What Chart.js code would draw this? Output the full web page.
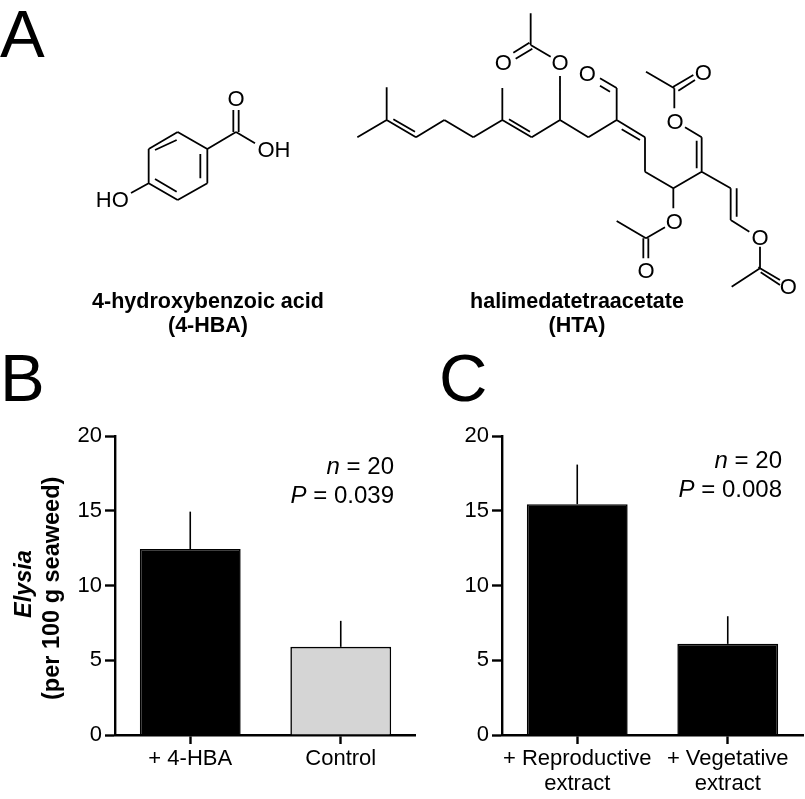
<!DOCTYPE html>
<html>
<head>
<meta charset="utf-8">
<script src="https://cdn.jsdelivr.net/npm/chart.js@4"></script>
<style>
  html, body { margin: 0; padding: 0; background: #fff; }
  #page { position: relative; width: 805px; height: 799px; overflow: hidden; font-family: "Liberation Sans", Arial, sans-serif; color: #000; }
  #page canvas { position: absolute; }
  .txt { position: absolute; white-space: nowrap; line-height: 1; }
  .panel { font-size: 67px; }
  .name { font-size: 21.5px; font-weight: bold; text-align: center; line-height: 24px; transform: translateX(-50%); }
  .stat { font-size: 24px; text-align: right; line-height: 29px; transform: translateX(-100%); }
  .ytitle { font-size: 23.5px; font-weight: bold; transform-origin: 0 0; }
</style>
</head>
<body>
<div id="page">
  <canvas id="hbaChart" width="340" height="350" style="left:0;top:0"></canvas>
  <canvas id="htaChart" width="465" height="350" style="left:340px;top:0"></canvas>
  <canvas id="chartB" width="416" height="379" style="left:0;top:420px"></canvas>
  <canvas id="chartC" width="805" height="379" style="left:0;top:420px"></canvas>

  <div class="txt panel" style="left:0;top:0">A</div>
  <div class="txt panel" style="left:0;top:344px">B</div>
  <div class="txt panel" style="left:439px;top:344px">C</div>

  <div class="txt name" style="left:208px;top:289px">4-hydroxybenzoic acid<br>(4-HBA)</div>
  <div class="txt name" style="left:577px;top:289px">halimedatetraacetate<br>(HTA)</div>

  <div class="txt stat" style="left:394px;top:451px"><i>n</i> = 20<br><i>P</i> = 0.039</div>
  <div class="txt stat" style="left:782px;top:445px"><i>n</i> = 20<br><i>P</i> = 0.008</div>

  <div class="txt ytitle" id="yTitle1" style="left:12px;top:618px;transform:rotate(-90deg)"><i>Elysia</i></div>
  <div class="txt ytitle" id="yTitle2" style="left:40px;top:700px;transform:rotate(-90deg)">(per 100 g seaweed)</div>
</div>

<script>
// ----------------------------------------------------
// Bar panels
// ----------------------------------------------------
const categoriesB = ['+ 4-HBA', 'Control'];
const valuesB = [12.45, 5.9];
const errorsB = [2.5, 1.74];

const categoriesC = [['+ Reproductive', 'extract'], ['+ Vegetative', 'extract']];
const valuesC = [15.45, 6.1];
const errorsC = [2.65, 1.85];

const yTicks = [0, 5, 10, 15, 20];

// ----------------------------------------------------
// Structures: bonds as point pairs, in each sketch's own units
// ----------------------------------------------------
const hbaBonds = [
  [533,396, 622,447], [622,447, 622,550], [622,550, 533,600], [533,600, 446,550], [446,550, 446,447], [446,447, 533,396],
  [465,450, 530,420], [601,462, 601,535], [465,537, 530,575],
  [622,447, 708,396], [708,396, 765,430], [700,396, 700,330], [716,396, 716,330],
  [446,550, 393,579]
];
const hbaAtoms = [
  { t: 'O', x: 708, y: 296 },
  { t: 'OH', x: 822, y: 450 },
  { t: 'HO', x: 337, y: 600 }
];

const htaBonds = [
  [52,352, 140,300], [140,202, 140,300], [140,300, 228,352], [160,298, 225,335], [228,352, 313,300], [313,300, 400,352],
  [400,352, 487,300], [487,204, 487,300], [487,300, 575,352], [507,298, 570,335], [575,352, 660,300],
  [660,300, 660,168], [632,110, 572,75], [572,75, 572,-20], [520,98, 568,68], [527,116, 577,86],
  [660,300, 745,352], [745,352, 830,300], [830,300, 830,204], [830,204, 780,175], [810,215, 780,197],
  [830,300, 915,352], [845,328, 900,360], [915,352, 915,455], [915,455, 1000,505],
  [1000,505, 1000,565], [975,622, 918,655], [918,655, 830,603], [910,655, 910,715], [925,655, 925,715],
  [1000,505, 1085,455], [1085,455, 1085,352], [1070,445, 1070,362], [1085,352, 1035,322],
  [1003,265, 1003,205], [1003,205, 918,155], [1000,200, 1060,165], [1015,212, 1065,180],
  [1085,455, 1172,505], [1172,505, 1172,600], [1190,505, 1190,590], [1172,600, 1228,635],
  [1260,680, 1260,745], [1260,745, 1175,800], [1255,742, 1320,780], [1262,757, 1320,795]
];
const htaAtoms = [
  { t: 'O', x: 660, y: 130 }, { t: 'O', x: 490, y: 130 }, { t: 'O', x: 742, y: 162 },
  { t: 'O', x: 1005, y: 305 }, { t: 'O', x: 1090, y: 158 }, { t: 'O', x: 1003, y: 605 },
  { t: 'O', x: 918, y: 752 }, { t: 'O', x: 1260, y: 655 }, { t: 'O', x: 1345, y: 800 }
];

// null between bonds keeps the line from joining them up
function bondPoints(bonds) {
  const pts = [];
  bonds.forEach(b => {
    pts.push({ x: b[0], y: b[1] }, { x: b[2], y: b[3] }, { x: null, y: null });
  });
  return pts;
}

// atom letters go on top of the bonds
const atomLabels = {
  id: 'atomLabels',
  afterDatasetsDraw(chart, args, opts) {
    const ctx = chart.ctx;
    ctx.save();
    ctx.font = '22px "Liberation Sans", Arial, sans-serif';
    ctx.fillStyle = '#000';
    ctx.textAlign = 'center';
    ctx.textBaseline = 'middle';
    opts.atoms.forEach(a => {
      ctx.fillText(a.t, chart.scales.x.getPixelForValue(a.x), chart.scales.y.getPixelForValue(a.y) + 1);
    });
    ctx.restore();
  }
};

function drawStructure(id, bonds, atoms, xMax, yMin, yMax) {
  new Chart(document.getElementById(id), {
    type: 'scatter',
    data: {
      datasets: [{
        data: bondPoints(bonds),
        showLine: true,
        spanGaps: false,
        borderColor: '#000',
        borderWidth: 1.8,
        pointRadius: 0,
        clip: false
      }]
    },
    options: {
      responsive: false,
      animation: false,
      layout: { padding: 0 },
      plugins: { legend: { display: false }, tooltip: { enabled: false }, atomLabels: { atoms } },
      scales: {
        x: { display: false, min: 0, max: xMax },
        y: { display: false, min: yMin, max: yMax, reverse: true }
      }
    },
    plugins: [atomLabels]
  });
}

drawStructure('hbaChart', hbaBonds, hbaAtoms, 1020, 0, 1050);
drawStructure('htaChart', htaBonds, htaAtoms, 1395, -60, 990);

// error bars only go up, no caps
const errorBars = {
  id: 'errorBars',
  beforeDatasetsDraw(chart, args, opts) {
    const ctx = chart.ctx;
    const meta = chart.getDatasetMeta(0);
    ctx.save();
    ctx.strokeStyle = '#000';
    ctx.lineWidth = 1.6;
    meta.data.forEach((bar, i) => {
      const top = chart.scales.y.getPixelForValue(opts.values[i] + opts.errors[i]);
      ctx.beginPath();
      ctx.moveTo(bar.x, top);
      ctx.lineTo(bar.x, bar.y);
      ctx.stroke();
    });
    ctx.restore();
  }
};

function drawBars(id, labels, values, errors, colors, leftEdge, rightPad) {
  new Chart(document.getElementById(id), {
    type: 'bar',
    data: {
      labels,
      datasets: [{
        data: values,
        backgroundColor: colors,
        borderColor: '#000',
        borderWidth: 1.6,
        barPercentage: 0.67,
        categoryPercentage: 1
      }]
    },
    options: {
      responsive: false,
      animation: false,
      layout: { padding: { top: 14, right: rightPad } },
      plugins: {
        legend: { display: false },
        tooltip: { enabled: false },
        errorBars: { values, errors }
      },
      scales: {
        x: {
          afterFit: s => { s.height = 64; },
          border: { color: '#000', width: 2.4 },
          grid: { offset: false, drawOnChartArea: false, tickColor: '#000', tickWidth: 2.4, tickLength: 9 },
          ticks: { color: '#000', font: { family: '"Liberation Sans", Arial, sans-serif', size: 22, lineHeight: 1.15 }, padding: 2, maxRotation: 0, autoSkip: false }
        },
        y: {
          min: 0,
          max: 20,
          afterFit: s => { s.width = leftEdge; },
          afterBuildTicks: s => { s.ticks = yTicks.map(v => ({ value: v })); },
          border: { color: '#000', width: 2.4 },
          grid: { drawOnChartArea: false, tickColor: '#000', tickWidth: 2.4, tickLength: 10 },
          ticks: { color: '#000', font: { family: '"Liberation Sans", Arial, sans-serif', size: 22 }, padding: 3 }
        }
      }
    },
    plugins: [errorBars]
  });
}

drawBars('chartB', categoriesB, valuesB, errorsB, ['#000', '#d5d5d5'], 115, 0);
drawBars('chartC', categoriesC, valuesC, errorsC, ['#000', '#000'], 502, 2);
</script>
</body>
</html>
